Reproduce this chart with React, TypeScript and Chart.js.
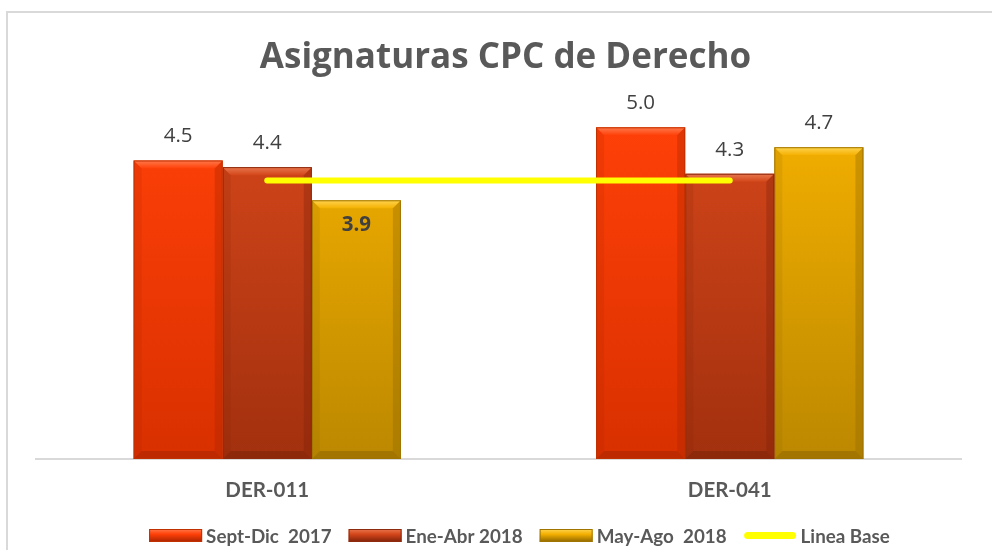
import React, { useEffect, useRef } from "react";
import { Chart, registerables } from "chart.js";

Chart.register(...registerables);

// ---------- data ----------
const chartTitle = "Asignaturas CPC de Derecho";
const categories = ["DER-011", "DER-041"];
const seriesNames = ["Sept-Dic  2017", "Ene-Abr 2018", "May-Ago  2018"];
const septDic2017 = [4.5, 5.0];
const eneAbr2018 = [4.4, 4.3];
const mayAgo2018 = [3.9, 4.7];
const lineaBaseName = "Linea Base";
const lineaBase = [4.2, 4.2];
const yMin = 0;
const yMax = 6;

// ---------- styles ----------
const LATO = "Lato, 'Open Sans', sans-serif";
const OPEN = "'Open Sans', Lato, sans-serif";
const barStyles = [
  { top: "#FF4008", bottom: "#D83000", light: "#FF7A4C", dark: "#A82400", edge: "#C03000" },
  { top: "#D4461A", bottom: "#A2300E", light: "#E8784E", dark: "#7E220A", edge: "#8E2A0E" },
  { top: "#F4B000", bottom: "#BC8800", light: "#FFD550", dark: "#8E6600", edge: "#A07400" },
];
const lineColor = "#FFFF00";
// which value labels sit inside the bar (series x category)
const labelInside = [
  [false, false],
  [false, false],
  [true, false],
];

const gradientFor = (idx: number) => (ctx: any) => {
  const chart = ctx.chart;
  const area = chart.chartArea;
  const s = barStyles[idx];
  if (!area) return s.top;
  const g = chart.ctx.createLinearGradient(0, area.top + 60, 0, area.bottom);
  g.addColorStop(0, s.top);
  g.addColorStop(1, s.bottom);
  return g;
};

const bevelPlugin = {
  id: "bevel",
  afterDatasetDraw(chart: any, args: any) {
    const meta = args.meta;
    if (meta.type !== "bar") return;
    const s = barStyles[args.index];
    const c = chart.ctx;
    c.save();
    meta.data.forEach((el: any) => {
      const { x, y, base, width } = el.getProps(["x", "y", "base", "width"], true);
      const l = x - width / 2;
      const r = x + width / 2;
      const b = 8;
      const tg = c.createLinearGradient(0, y, 0, y + b);
      tg.addColorStop(0, s.light);
      tg.addColorStop(1, s.top);
      c.fillStyle = tg;
      c.beginPath();
      c.moveTo(l, y);
      c.lineTo(r, y);
      c.lineTo(r - b, y + b);
      c.lineTo(l + b, y + b);
      c.closePath();
      c.fill();
      c.fillStyle = s.dark;
      c.globalAlpha = 0.55;
      c.beginPath();
      c.moveTo(l, base);
      c.lineTo(r, base);
      c.lineTo(r - b, base - b);
      c.lineTo(l + b, base - b);
      c.closePath();
      c.fill();
      c.globalAlpha = 0.35;
      c.beginPath();
      c.moveTo(r, y);
      c.lineTo(r, base);
      c.lineTo(r - b, base - b);
      c.lineTo(r - b, y + b);
      c.closePath();
      c.fill();
      c.globalAlpha = 0.15;
      c.beginPath();
      c.moveTo(l, y);
      c.lineTo(l, base);
      c.lineTo(l + b, base - b);
      c.lineTo(l + b, y + b);
      c.closePath();
      c.fill();
      c.globalAlpha = 1;
      c.strokeStyle = s.edge;
      c.lineWidth = 1;
      c.strokeRect(l + 0.5, y + 0.5, width - 1, base - y - 1);
    });
    c.restore();
  },
};

const labelsPlugin = {
  id: "valueLabels",
  afterDatasetsDraw(chart: any) {
    const c = chart.ctx;
    c.save();
    c.textAlign = "center";
    c.textBaseline = "middle";
    c.fillStyle = "#404040";
    chart.data.datasets.forEach((ds: any, i: number) => {
      if (ds.type === "line") return;
      const meta = chart.getDatasetMeta(i);
      meta.data.forEach((el: any, j: number) => {
        const v = ds.data[j];
        const inside = labelInside[i][j];
        c.font = (inside ? "bold " : "") + "20.5px " + OPEN;
        const yy = inside ? el.y + 25 : el.y - 24;
        c.fillText(v.toFixed(1), el.x, yy);
      });
    });
    c.restore();
  },
};

const titleLegendPlugin = {
  id: "titleLegend",
  afterDraw(chart: any) {
    const c = chart.ctx;
    c.save();
    c.font = "bold 35px " + OPEN;
    c.fillStyle = "#595959";
    c.textAlign = "center";
    c.textBaseline = "alphabetic";
    c.fillText(chartTitle, 505.5, 68);
    // legend
    c.font = "bold 18.8px " + LATO;
    c.textAlign = "left";
    c.textBaseline = "middle";
    const boxW = 53;
    const boxH = 13;
    const gapText = 4;
    const gapItem = 17;
    const items = chart.data.datasets.map((ds: any, i: number) => ({
      text: ds.label,
      line: ds.type === "line",
      idx: i,
      w: boxW + gapText + c.measureText(ds.label).width,
    }));
    const total = items.reduce((a: number, it: any) => a + it.w, 0) + gapItem * (items.length - 1);
    let x = 519.5 - total / 2;
    const cy = 535.5;
    items.forEach((it: any) => {
      if (it.line) {
        c.strokeStyle = lineColor;
        c.lineWidth = 7;
        c.lineCap = "round";
        c.beginPath();
        c.moveTo(x + 4, cy);
        c.lineTo(x + boxW - 4, cy);
        c.stroke();
      } else {
        const s = barStyles[it.idx];
        const g = c.createLinearGradient(0, cy - boxH / 2, 0, cy + boxH / 2);
        g.addColorStop(0, s.light);
        g.addColorStop(0.4, s.top);
        g.addColorStop(1, s.dark);
        c.fillStyle = g;
        c.fillRect(x, cy - boxH / 2, boxW, boxH);
        c.strokeStyle = s.edge;
        c.lineWidth = 1;
        c.strokeRect(x + 0.5, cy - boxH / 2 + 0.5, boxW - 1, boxH - 1);
      }
      c.fillStyle = "#595959";
      c.fillText(it.text, x + boxW + gapText, cy + 1);
      x += it.w + gapItem;
    });
    c.restore();
  },
};

export default function App() {
  const ref = useRef<HTMLCanvasElement | null>(null);

  useEffect(() => {
    let chart: Chart | null = null;
    let cancelled = false;
    const build = () => {
      if (cancelled || !ref.current) return;
      chart = new Chart(ref.current, {
        type: "bar",
        data: {
          labels: categories,
          datasets: [
            { type: "bar", label: seriesNames[0], data: septDic2017, backgroundColor: gradientFor(0), borderWidth: 0 },
            { type: "bar", label: seriesNames[1], data: eneAbr2018, backgroundColor: gradientFor(1), borderWidth: 0 },
            { type: "bar", label: seriesNames[2], data: mayAgo2018, backgroundColor: gradientFor(2), borderWidth: 0 },
            {
              type: "line",
              label: lineaBaseName,
              data: lineaBase,
              borderColor: lineColor,
              backgroundColor: lineColor,
              borderWidth: 6,
              borderCapStyle: "round",
              pointRadius: 0,
              fill: false,
              order: -1,
            } as any,
          ],
        },
        options: {
          responsive: false,
          animation: false,
          devicePixelRatio: 1,
          layout: { padding: { left: 36, right: 31, top: 61, bottom: 28.4 } },
          datasets: { bar: { categoryPercentage: 0.578, barPercentage: 1 } },
          plugins: {
            legend: { display: false },
            title: { display: false },
            tooltip: { enabled: false },
          },
          scales: {
            x: {
              grid: { display: false, drawTicks: false },
              border: { display: true, color: "#D9D9D9", width: 2 },
              ticks: { color: "#595959", font: { family: LATO, size: 20.5, weight: "bold" }, padding: 19 },
            },
            y: { display: false, min: yMin, max: yMax },
          },
        } as any,
        plugins: [bevelPlugin, labelsPlugin, titleLegendPlugin],
      });
    };
    const fonts = (document as any).fonts;
    if (fonts && fonts.load) {
      Promise.all([
        fonts.load("bold 35px 'Open Sans'"),
        fonts.load("20px 'Open Sans'"),
        fonts.load("bold 18px Lato"),
      ])
        .catch(() => {})
        .then(build);
    } else build();
    return () => {
      cancelled = true;
      if (chart) chart.destroy();
    };
  }, []);

  return (
    <div style={{ position: "absolute", left: 0, top: 0, width: 992, height: 550, overflow: "hidden", background: "#fff" }}>
      <div
        style={{
          position: "absolute",
          left: 6,
          top: 11,
          width: 1200,
          height: 800,
          border: "2px solid #D9D9D9",
          boxSizing: "border-box",
        }}
      />
      <canvas ref={ref} width={992} height={550} style={{ position: "absolute", left: 0, top: 0, width: 992, height: 550 }} />
    </div>
  );
}
